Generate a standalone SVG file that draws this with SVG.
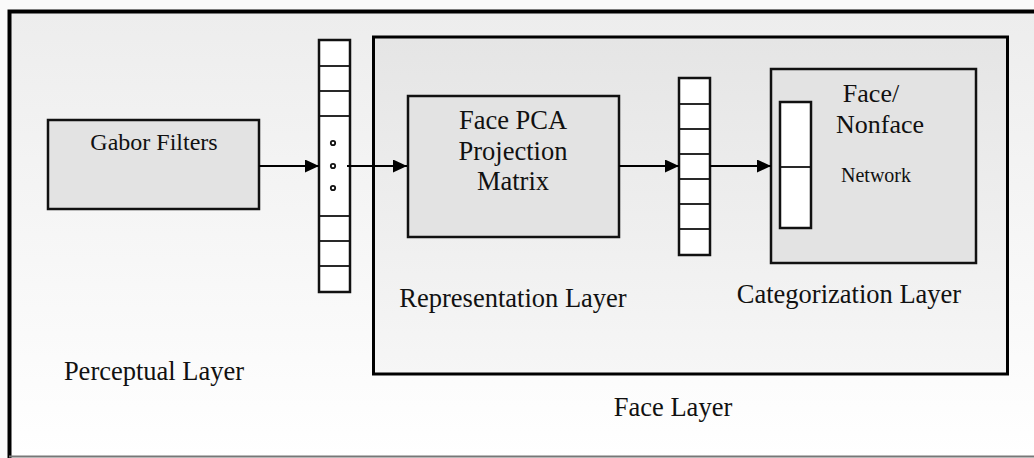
<svg xmlns="http://www.w3.org/2000/svg" width="1034" height="458" viewBox="0 0 1034 458">
<defs>
<linearGradient id="bgGrad" x1="0" y1="0" x2="0" y2="1">
<stop offset="0" stop-color="#ededed"/>
<stop offset="1" stop-color="#ffffff"/>
</linearGradient>
<linearGradient id="faceGrad" x1="0" y1="0" x2="0" y2="1">
<stop offset="0" stop-color="#e5e5e5"/>
<stop offset="1" stop-color="#f6f6f6"/>
</linearGradient>
<marker id="arrow" viewBox="0 0 14 13" refX="14" refY="6.5" markerWidth="14" markerHeight="13" markerUnits="userSpaceOnUse" orient="auto">
<path d="M0,0 L14,6.5 L0,13 Z" fill="#000"/>
</marker>
<style>
text { font-family: "Liberation Serif", "Times New Roman", serif; fill: #111; }
.lbl { font-size: 26.5px; }
.box { fill: #e3e3e3; stroke: #111; stroke-width: 2.5; }
.cell { fill: #ffffff; stroke: #111; stroke-width: 2.5; }
.div { stroke: #111; stroke-width: 1.8; }
.dot { fill: none; stroke: #111; stroke-width: 1.8; }
.conn { stroke: #000; stroke-width: 2; fill: none; marker-end: url(#arrow); }
</style>
</defs>

<g id="background">
<rect x="0" y="0" width="1034" height="458" fill="#fafafa"/>
<rect x="10" y="12" width="1024" height="445" fill="url(#bgGrad)"/>
<path d="M9.5,458 V11.5 H1034" fill="none" stroke="#000" stroke-width="4"/>
<line x1="9" y1="456.5" x2="1034" y2="456.5" stroke="#777" stroke-width="2"/>
</g>

<g id="face-layer">
<rect x="373.5" y="37" width="634" height="337" fill="url(#faceGrad)" stroke="#000" stroke-width="3"/>
<text class="lbl" x="673" y="416" text-anchor="middle">Face Layer</text>
</g>

<g id="perceptual-label">
<text class="lbl" x="154" y="380" text-anchor="middle">Perceptual Layer</text>
</g>

<g id="gabor-filters">
<rect class="box" x="48" y="120" width="211" height="89"/>
<text x="154" y="150" text-anchor="middle" font-size="24">Gabor Filters</text>
</g>

<g id="vector-1">
<rect class="cell" x="319" y="40" width="31" height="252"/>
<line class="div" x1="319" y1="66" x2="350" y2="66"/>
<line class="div" x1="319" y1="91" x2="350" y2="91"/>
<line class="div" x1="319" y1="116" x2="350" y2="116"/>
<line class="div" x1="319" y1="216" x2="350" y2="216"/>
<line class="div" x1="319" y1="241" x2="350" y2="241"/>
<line class="div" x1="319" y1="266" x2="350" y2="266"/>
<circle class="dot" cx="333" cy="143" r="2.2"/>
<circle class="dot" cx="333" cy="166" r="2.2"/>
<circle class="dot" cx="333" cy="188" r="2.2"/>
</g>

<g id="pca-matrix">
<rect class="box" x="408" y="96" width="211" height="141"/>
<text class="lbl" text-anchor="middle" font-size="26"><tspan x="513" y="129">Face PCA</tspan><tspan x="513" y="160">Projection</tspan><tspan x="513" y="190">Matrix</tspan></text>
</g>

<g id="representation-label">
<text class="lbl" x="513" y="307" text-anchor="middle">Representation Layer</text>
</g>

<g id="vector-2">
<rect class="cell" x="679" y="78" width="31" height="177"/>
<line class="div" x1="679" y1="104" x2="710" y2="104"/>
<line class="div" x1="679" y1="129" x2="710" y2="129"/>
<line class="div" x1="679" y1="154" x2="710" y2="154"/>
<line class="div" x1="679" y1="179" x2="710" y2="179"/>
<line class="div" x1="679" y1="204" x2="710" y2="204"/>
<line class="div" x1="679" y1="229" x2="710" y2="229"/>
</g>

<g id="face-nonface-network">
<rect class="box" x="771" y="69" width="205" height="194"/>
<rect class="cell" x="780" y="102" width="31" height="126"/>
<line class="div" x1="780" y1="167" x2="811" y2="167"/>
<text x="871" y="102" text-anchor="middle" font-size="26">Face/</text>
<text x="880" y="133" text-anchor="middle" font-size="26">Nonface</text>
<text x="876" y="182" text-anchor="middle" font-size="20">Network</text>
</g>

<g id="categorization-label">
<text class="lbl" x="849" y="303" text-anchor="middle">Categorization Layer</text>
</g>

<g id="connectors">
<line class="conn" x1="259" y1="166" x2="319" y2="166"/>
<line class="conn" x1="347" y1="166" x2="407" y2="166"/>
<line class="conn" x1="619" y1="166" x2="679" y2="166"/>
<line class="conn" x1="710" y1="166" x2="771" y2="166"/>
</g>
</svg>
